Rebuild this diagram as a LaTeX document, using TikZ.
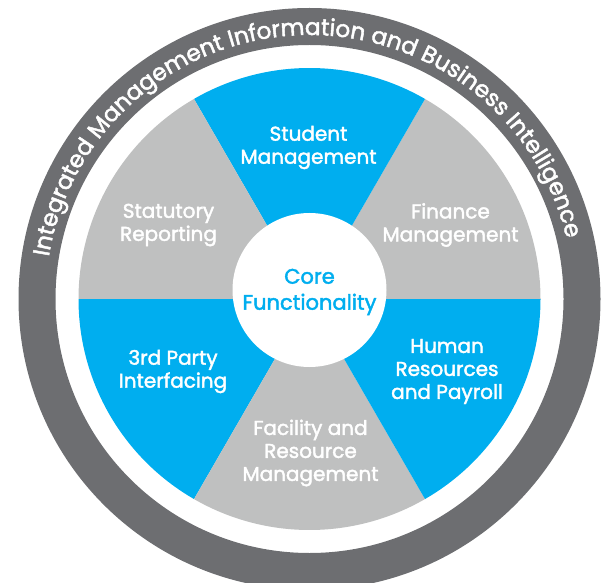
\documentclass[tikz,border=0pt]{standalone}
\usepackage{fontspec}
\setmainfont{Poppins}
\newfontfamily\imfont[FakeBold=2]{Poppins}
\usetikzlibrary{decorations.text}
\definecolor{imcyan}{HTML}{00AEEF}
\definecolor{imgray}{HTML}{BFC0C0}
\definecolor{imdark}{HTML}{6D6E71}
\begin{document}
\begin{tikzpicture}[
  x=1pt, y=1pt,
  imlbl/.style = {font=\imfont\fontsize{20}{23}\selectfont, text=white, align=center, inner sep=0pt},
  imcore/.style = {font=\imfont\fontsize{21}{26}\selectfont, text=imcyan, align=center, inner sep=0pt},
  imring/.style = {decorate, decoration={text along path, text align=center, text color=white,
    text={|\imfont\fontsize{23.2}{23.2}\selectfont|Integrated Management Information and Business Intelligence}}}
]
  \useasboundingbox (0,0) rectangle (605,582);
  \coordinate (hub) at (309.5,283);
  % outer ring
  \fill[imdark, even odd rule] (hub) circle (291) (hub) circle (254);
  \path[imring] ([shift={(192:264)}]hub) arc[start angle=192, end angle=-8, radius=264];
  % wedges
  \foreach \a/\c in {0/imgray, 60/imcyan, 120/imgray, 180/imcyan, 240/imgray, 300/imcyan}
    \fill[\c] (hub) -- ++(\a:231) arc[start angle=\a, end angle=\a+60, radius=231] -- cycle;
  % centre
  \fill[white] (309.5,292) circle (77);
  \node[imcore] (core) at (309.5,290) {Core\\Functionality};
  % labels
  \node[imlbl] (student) at (308.5,434.5) {Student\\Management};
  \node[imlbl] (finance) at (450.5,357) {Finance\\Management};
  \node[imlbl] (human) at (447,210.5) {Human\\Resources\\and Payroll};
  \node[imlbl] (facility) at (310.5,129) {Facility and\\Resource\\Management};
  \node[imlbl] (party) at (173,210.5) {3rd Party\\Interfacing};
  \node[imlbl] (statutory) at (168.5,357) {Statutory\\Reporting};
\end{tikzpicture}
\end{document}
